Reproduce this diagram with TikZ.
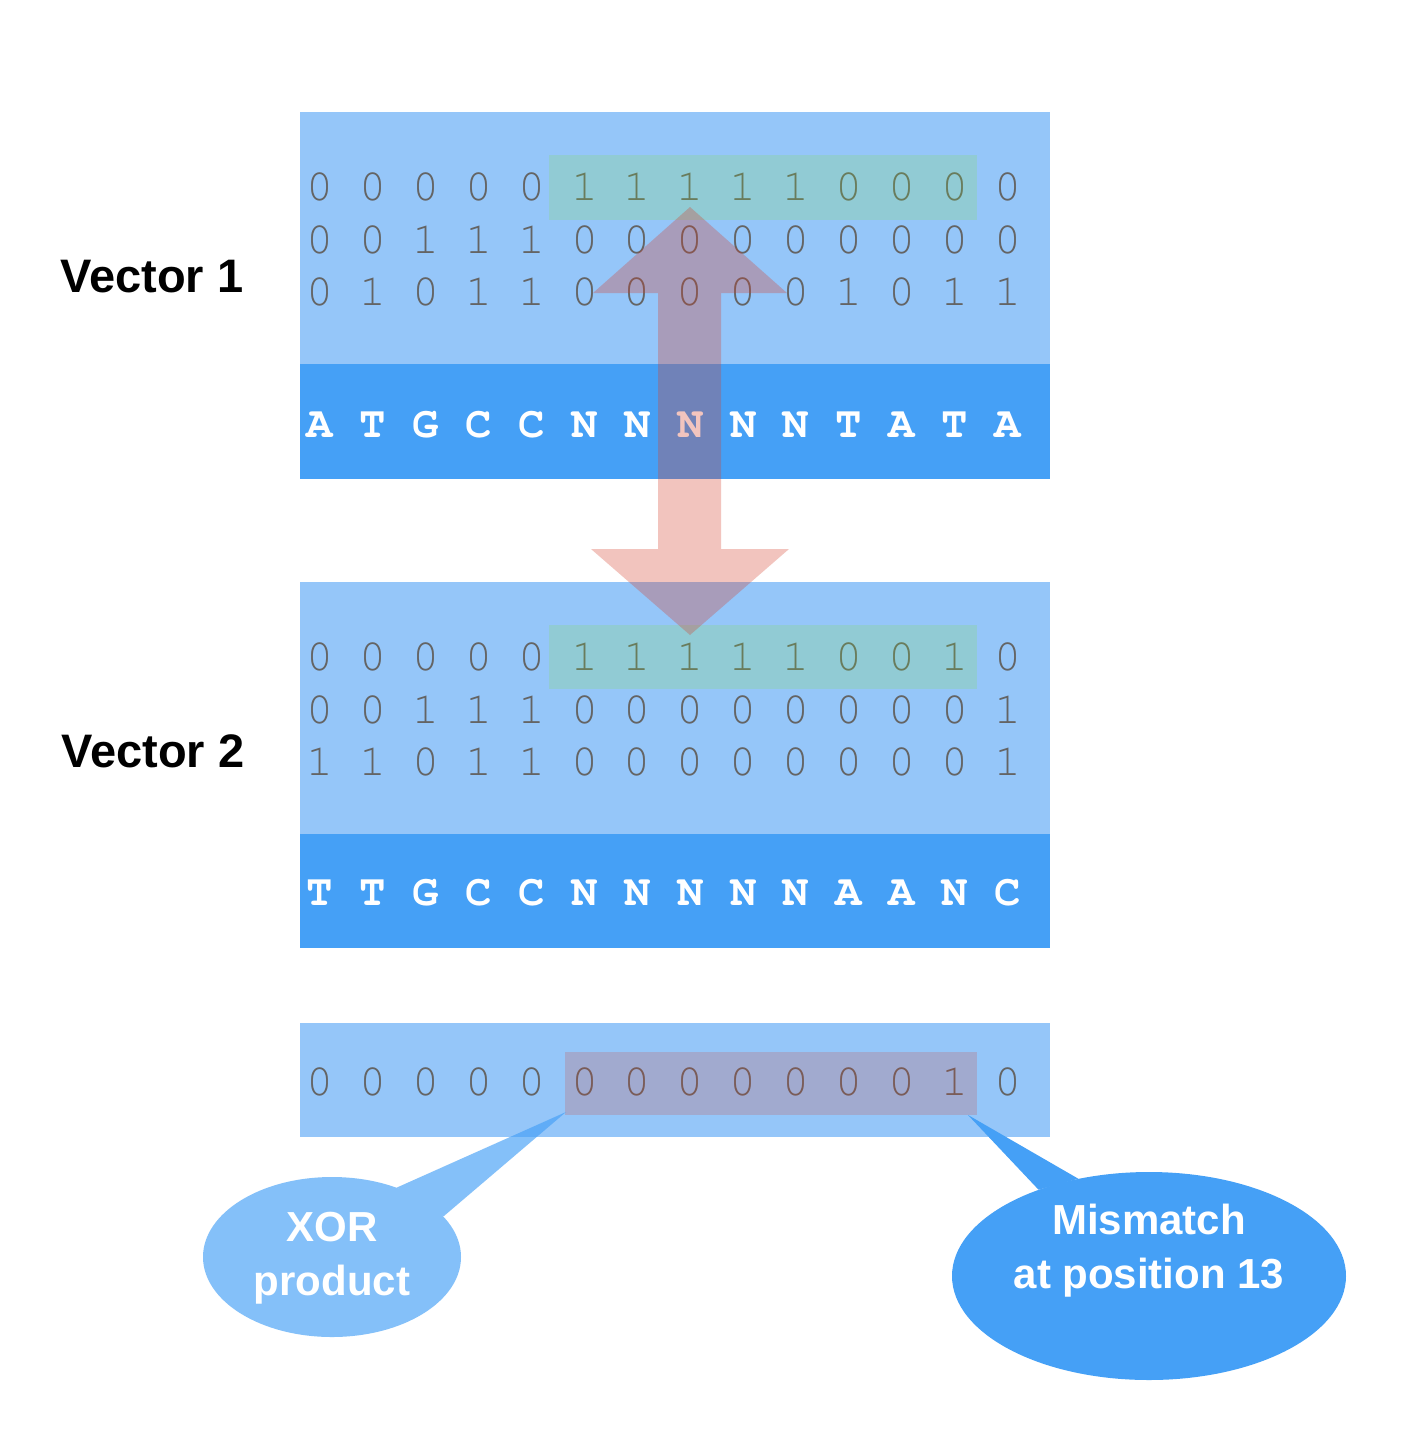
\documentclass[tikz,border=0pt]{standalone}
\usepackage{fontspec}
\setmainfont{Liberation Sans}
\newfontfamily\courierfont{TeX Gyre Cursor}
\usetikzlibrary{shapes.geometric}
\definecolor{lightbox}{RGB}{149,198,249}
\definecolor{darkbox}{RGB}{69,160,246}
\definecolor{bitgray}{RGB}{100,100,100}
\definecolor{hlgreen}{RGB}{129,223,64}
\definecolor{hlred}{RGB}{212,62,42}
\tikzset{
  bit/.style={font=\courierfont\fontsize{45}{45}\selectfont,text=bitgray,inner sep=0pt},
  base/.style={font=\courierfont\bfseries\fontsize{44}{44}\selectfont,text=white,inner sep=0pt},
  veclabel/.style={font=\bfseries\fontsize{47}{47}\selectfont,inner sep=0pt},
  calltext/.style={font=\bfseries\fontsize{42}{54}\selectfont,text=white,align=center,inner sep=0pt},
  callout/.style={ellipse,fill=darkbox,inner sep=0pt}
}
\begin{document}
\begin{tikzpicture}[x=1pt,y=-1pt]
\useasboundingbox (0,0) rectangle (1412,1436);
\fill[white] (0,0) rectangle (1412,1436);
% boxes
\fill[lightbox] (300,112) rectangle (1050,364);
\fill[darkbox] (300,364) rectangle (1050,479);
\fill[lightbox] (300,582) rectangle (1050,834);
\fill[darkbox] (300,834) rectangle (1050,948);
\fill[lightbox] (300,1023) rectangle (1050,1137);
% labels
\node[veclabel] (vecA) at (152,277) {Vector 1};
\node[veclabel] (vecB) at (153,751) {Vector 2};
% vector 1
\foreach \b [count=\i] in {0,0,0,0,0,1,1,1,1,1,0,0,0,0}
  \node[bit] (a1-\i) at ({320+(\i-1)*52.9},187) {\b};
\foreach \b [count=\i] in {0,0,1,1,1,0,0,0,0,0,0,0,0,0}
  \node[bit] (a2-\i) at ({320+(\i-1)*52.9},240) {\b};
\foreach \b [count=\i] in {0,1,0,1,1,0,0,0,0,0,1,0,1,1}
  \node[bit] (a3-\i) at ({320+(\i-1)*52.9},292) {\b};
\foreach \b [count=\i] in {A,T,G,C,C,N,N,N,N,N,T,A,T,A}
  \node[base] (as-\i) at ({320+(\i-1)*52.9},425) {\b};
% vector 2
\foreach \b [count=\i] in {0,0,0,0,0,1,1,1,1,1,0,0,1,0}
  \node[bit] (b1-\i) at ({320+(\i-1)*52.9},657) {\b};
\foreach \b [count=\i] in {0,0,1,1,1,0,0,0,0,0,0,0,0,1}
  \node[bit] (b2-\i) at ({320+(\i-1)*52.9},710) {\b};
\foreach \b [count=\i] in {1,1,0,1,1,0,0,0,0,0,0,0,0,1}
  \node[bit] (b3-\i) at ({320+(\i-1)*52.9},762) {\b};
\foreach \b [count=\i] in {T,T,G,C,C,N,N,N,N,N,A,A,N,C}
  \node[base] (bs-\i) at ({320+(\i-1)*52.9},893) {\b};
% xor
\foreach \b [count=\i] in {0,0,0,0,0,0,0,0,0,0,0,0,1,0}
  \node[bit] (x-\i) at ({320+(\i-1)*52.9},1082) {\b};
% highlights
\fill[hlgreen,opacity=0.2] (549,155) rectangle (977,220);
\fill[hlgreen,opacity=0.2] (549,625) rectangle (977,689);
\fill[hlred,opacity=0.2] (565,1052) rectangle (977,1115);
% double arrow
\fill[hlred,opacity=0.3] (690,207) -- (787,293) -- (721,293) -- (721,549)
  -- (789,549) -- (690,635) -- (591,549) -- (658,549) -- (658,293)
  -- (593,293) -- cycle;
% callouts
\coordinate (xorTip) at (566,1112);
\coordinate (misTip) at (968,1115);
\begin{scope}[transparency group,opacity=0.66]
\node[callout,minimum width=258pt,minimum height=160pt] (xorCall) at (332,1257) {};
\fill[darkbox] (xorCall.47) -- (xorTip) -- (xorCall.20) -- cycle;
\end{scope}
\node[callout,minimum width=394pt,minimum height=208pt] (misCall) at (1149,1276) {};
\fill[darkbox] (misCall.142) -- (misTip) -- (misCall.126) -- cycle;
\node[calltext] (xorText) at (332,1258) {XOR\\product};
\node[calltext] (misText) at (1149,1251) {Mismatch\\at position 13};
\end{tikzpicture}
\end{document}
